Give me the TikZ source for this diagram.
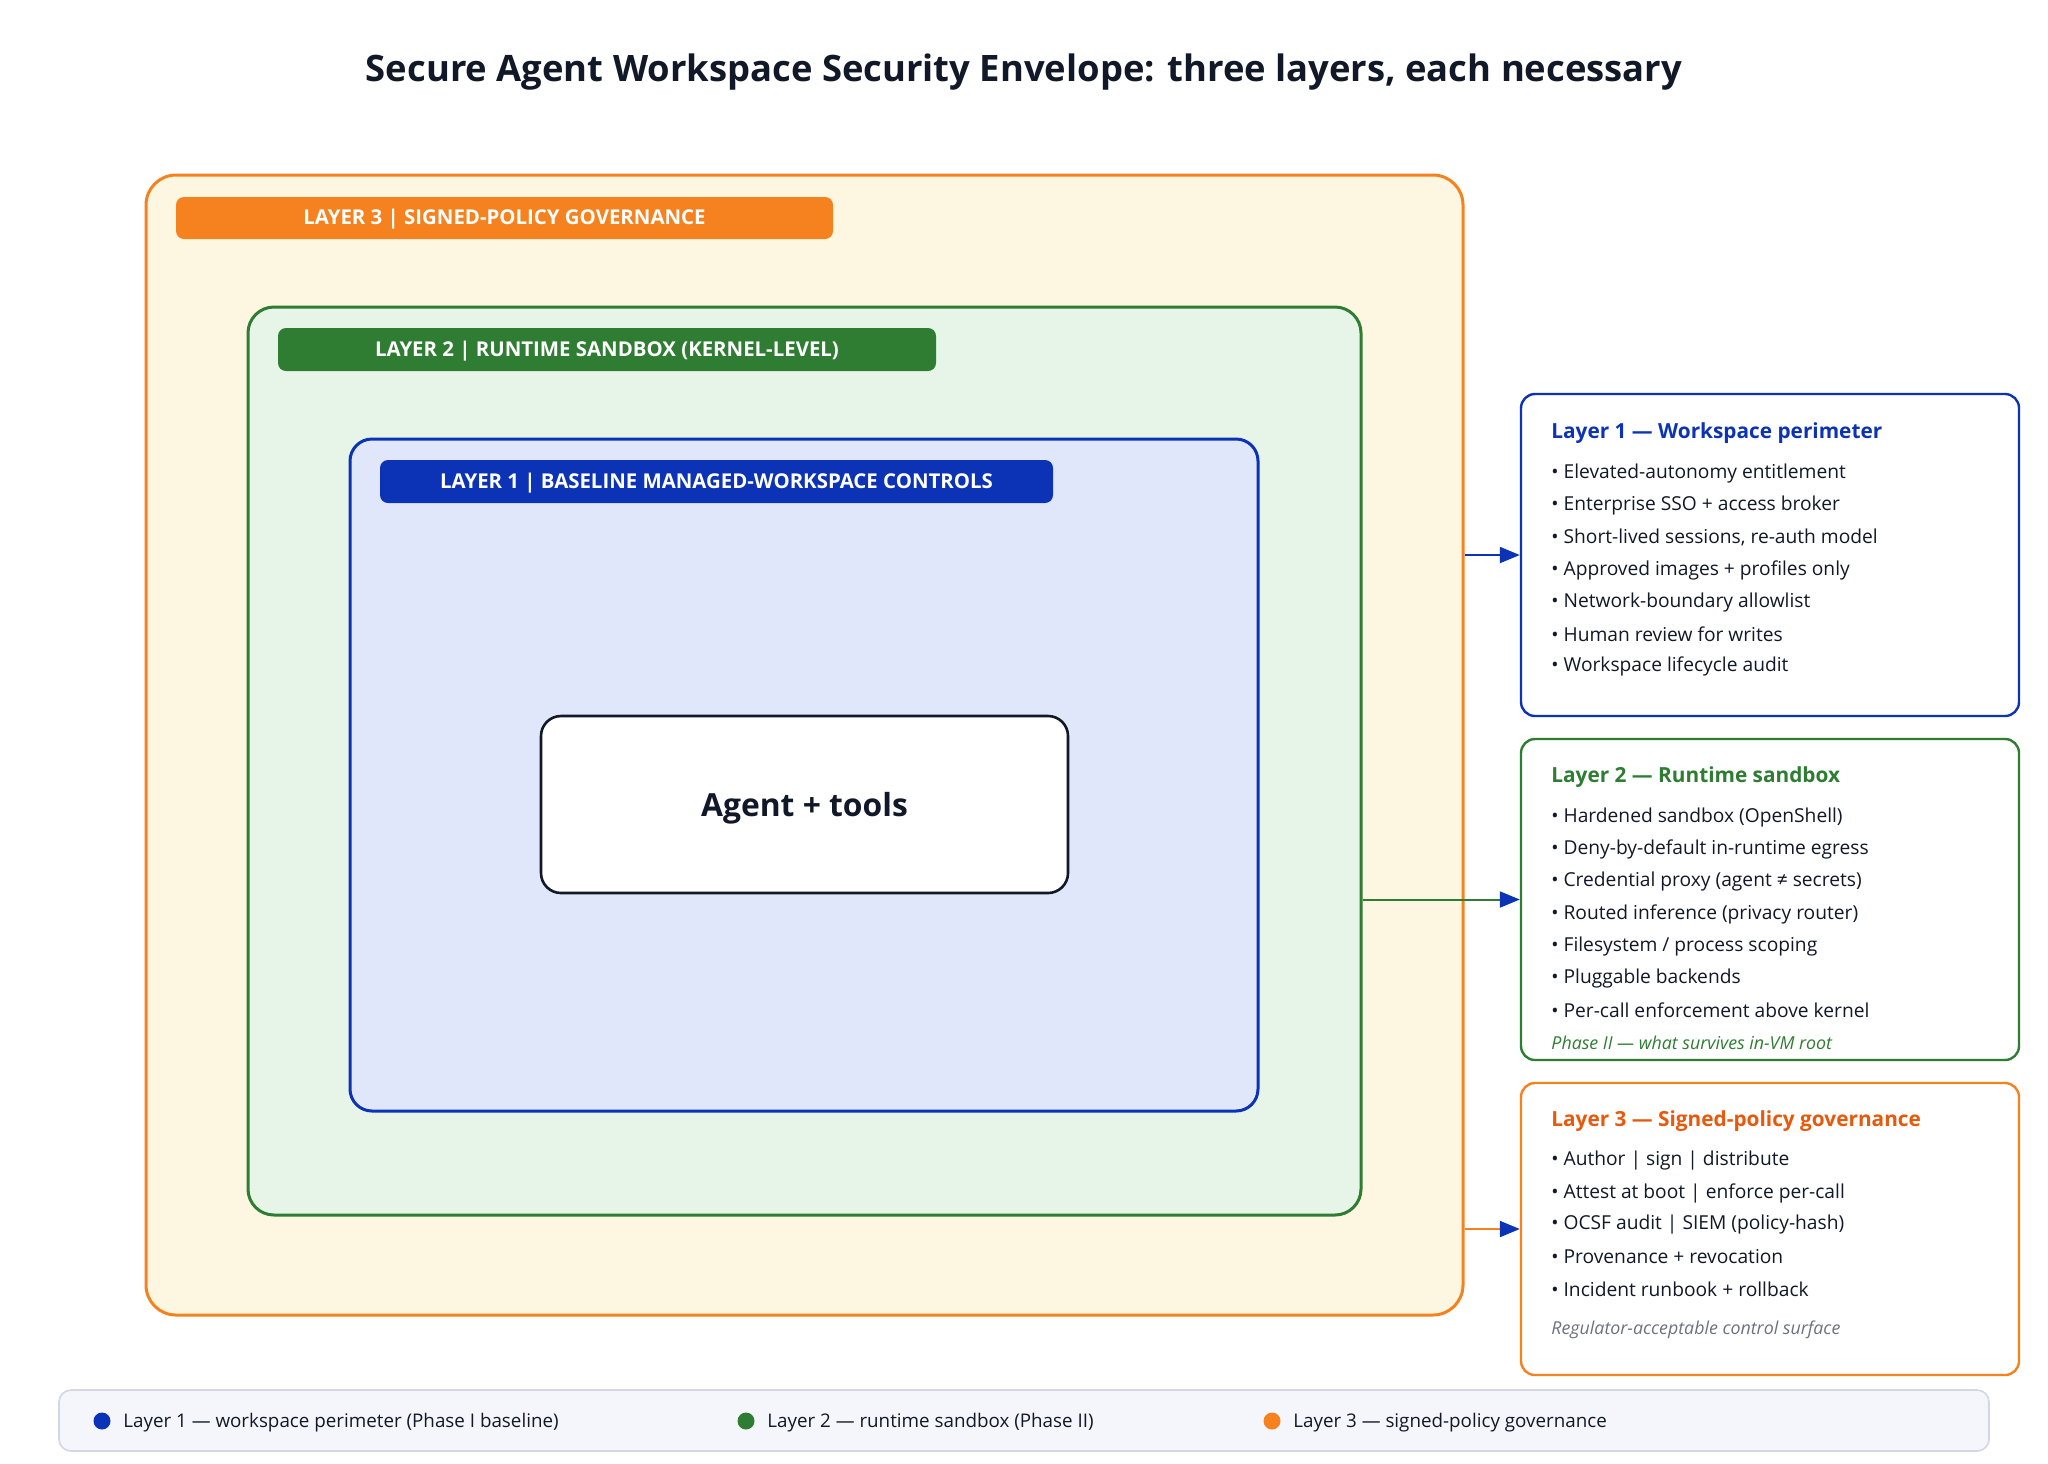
\documentclass[tikz,border=0pt]{standalone}
\usepackage{fontspec}
\setmainfont{Open Sans}
\usetikzlibrary{fit,arrows.meta}
\definecolor{cthree}{HTML}{F5821F}
\definecolor{cthreef}{HTML}{FDF6E0}
\definecolor{cthreeh}{HTML}{E8590C}
\definecolor{ctwo}{HTML}{2E7D32}
\definecolor{ctwof}{HTML}{E7F5E8}
\definecolor{cone}{HTML}{0C33B5}
\definecolor{conef}{HTML}{E1E7FA}
\definecolor{ink}{HTML}{111827}
\definecolor{notegray}{HTML}{6B7280}
\definecolor{legf}{HTML}{F5F6FB}
\definecolor{legd}{HTML}{D3D7E3}
\tikzset{
  layerbox/.style={line width=1.5pt, rounded corners=15pt, inner sep=0pt},
  banner/.style={rounded corners=4pt, inner sep=0pt},
  bantext/.style={text=white, inner sep=0pt, yshift=-0.7pt, font=\bfseries\fontsize{10.2}{12}\selectfont},
  panel/.style={fill=white, line width=1.2pt, rounded corners=7pt, inner sep=0pt},
  phead/.style={anchor=west, inner sep=0pt, yshift=-1.2pt, font=\bfseries\fontsize{10.4}{12}\selectfont},
  bul/.style={anchor=west, inner sep=0pt, yshift=-1.5pt, text=ink, font=\fontsize{9.6}{11}\selectfont},
  pnote/.style={anchor=west, inner sep=0pt, yshift=-1pt, font=\itshape\fontsize{8.9}{10}\selectfont},
  legtext/.style={anchor=west, inner sep=0pt, yshift=-1pt, text=ink, font=\fontsize{9.4}{11}\selectfont},
  conn/.style={line width=1pt, -{Triangle[length=10pt,width=8pt,fill=cone,color=cone]}},
}
\begin{document}
\begin{tikzpicture}[x=0.5pt,y=-0.5pt]
\useasboundingbox (0,0) rectangle (2048,1463);
\fill[white] (0,0) rectangle (2048,1463);

\node[text=ink, inner sep=0pt, font=\bfseries\fontsize{18.2}{22}\selectfont] (title) at (1024,72) {Secure Agent Workspace Security Envelope: three layers, each necessary};

% nested layers
\node[layerbox, draw=cthree, fill=cthreef, fit={(146,175)(1463,1315)}] (l3) {};
\node[banner, fill=cthree, minimum width=328.5pt, minimum height=21pt] (b3) at (504.5,218) {};
\node[bantext] (b3t) at (b3.center) {LAYER 3 | SIGNED-POLICY GOVERNANCE};
\node[layerbox, draw=ctwo, fill=ctwof, rounded corners=13pt, fit={(248,307)(1361,1215)}] (l2) {};
\node[banner, fill=ctwo, minimum width=329pt, minimum height=21.5pt] (b2) at (607,349.5) {};
\node[bantext] (b2t) at (b2.center) {LAYER 2 | RUNTIME SANDBOX (KERNEL-LEVEL)};
\node[layerbox, draw=cone, fill=conef, rounded corners=11pt, fit={(350,439)(1258,1111)}] (l1) {};
\node[banner, fill=cone, minimum width=336.5pt, minimum height=21.5pt] (b1) at (716.5,481.5) {};
\node[bantext] (b1t) at (b1.center) {LAYER 1 | BASELINE MANAGED-WORKSPACE CONTROLS};
\node[draw=ink, fill=white, line width=1.3pt, rounded corners=10pt, minimum width=263.5pt, minimum height=88.5pt] (agent) at (804.5,804.5) {};
\node[text=ink, inner sep=0pt, yshift=-2pt, font=\bfseries\fontsize{15.9}{18}\selectfont] (agentt) at (agent.center) {Agent + tools};

% right panels
\node[panel, draw=cone, fit={(1521,394)(2019,716)}] (p1) {};
\node[phead, text=cone] (p1h) at (1551,431) {Layer 1 — Workspace perimeter};
\node[bul] (p1a) at (1551,470) {• Elevated-autonomy entitlement};
\node[bul] (p1b) at (1551,502) {• Enterprise SSO + access broker};
\node[bul] (p1c) at (1551,534) {• Short-lived sessions, re-auth model};
\node[bul] (p1d) at (1551,567) {• Approved images + profiles only};
\node[bul] (p1e) at (1551,599) {• Network-boundary allowlist};
\node[bul] (p1f) at (1551,631) {• Human review for writes};
\node[bul] (p1g) at (1551,663) {• Workspace lifecycle audit};

\node[panel, draw=ctwo, fit={(1521,739)(2019,1060)}] (p2) {};
\node[phead, text=ctwo] (p2h) at (1551,775) {Layer 2 — Runtime sandbox};
\node[bul] (p2a) at (1551,814) {• Hardened sandbox (OpenShell)};
\node[bul] (p2b) at (1551,846) {• Deny-by-default in-runtime egress};
\node[bul] (p2c) at (1551,878) {• Credential proxy (agent ≠ secrets)};
\node[bul] (p2d) at (1551,911) {• Routed inference (privacy router)};
\node[bul] (p2e) at (1551,943) {• Filesystem / process scoping};
\node[bul] (p2f) at (1551,975) {• Pluggable backends};
\node[bul] (p2g) at (1551,1007) {• Per-call enforcement above kernel};
\node[pnote, text=ctwo] (p2n) at (1551,1041) {Phase II — what survives in-VM root};

\node[panel, draw=cthree, fit={(1521,1083)(2019,1375)}] (p3) {};
\node[phead, text=cthreeh] (p3h) at (1551,1119) {Layer 3 — Signed-policy governance};
\node[bul] (p3a) at (1551,1158) {• Author | sign | distribute};
\node[bul] (p3b) at (1551,1190) {• Attest at boot | enforce per-call};
\node[bul] (p3c) at (1551,1222) {• OCSF audit | SIEM (policy-hash)};
\node[bul] (p3d) at (1551,1254) {• Provenance + revocation};
\node[bul] (p3e) at (1551,1286) {• Incident runbook + rollback};
\node[pnote, text=notegray] (p3n) at (1551,1328) {Regulator-acceptable control surface};

% connectors
\draw[conn, draw=cone] (l3.east |- p1.west) -- (p1.west);
\draw[conn, draw=ctwo] (l2.east |- p2.west) -- (p2.west);
\draw[conn, draw=cthree] (l3.east |- p3.west) -- (p3.west);

% legend
\node[draw=legd, fill=legf, line width=0.8pt, rounded corners=6pt, inner sep=0pt, fit={(59,1390)(1989,1451)}] (leg) {};
\fill[cone] (102,1421) circle (8.5);
\node[legtext] (lg1) at (123,1421) {Layer 1 — workspace perimeter (Phase I baseline)};
\fill[ctwo] (746,1421) circle (8.5);
\node[legtext] (lg2) at (767,1421) {Layer 2 — runtime sandbox (Phase II)};
\fill[cthree] (1272,1421) circle (8.5);
\node[legtext] (lg3) at (1293,1421) {Layer 3 — signed-policy governance};
\end{tikzpicture}
\end{document}
